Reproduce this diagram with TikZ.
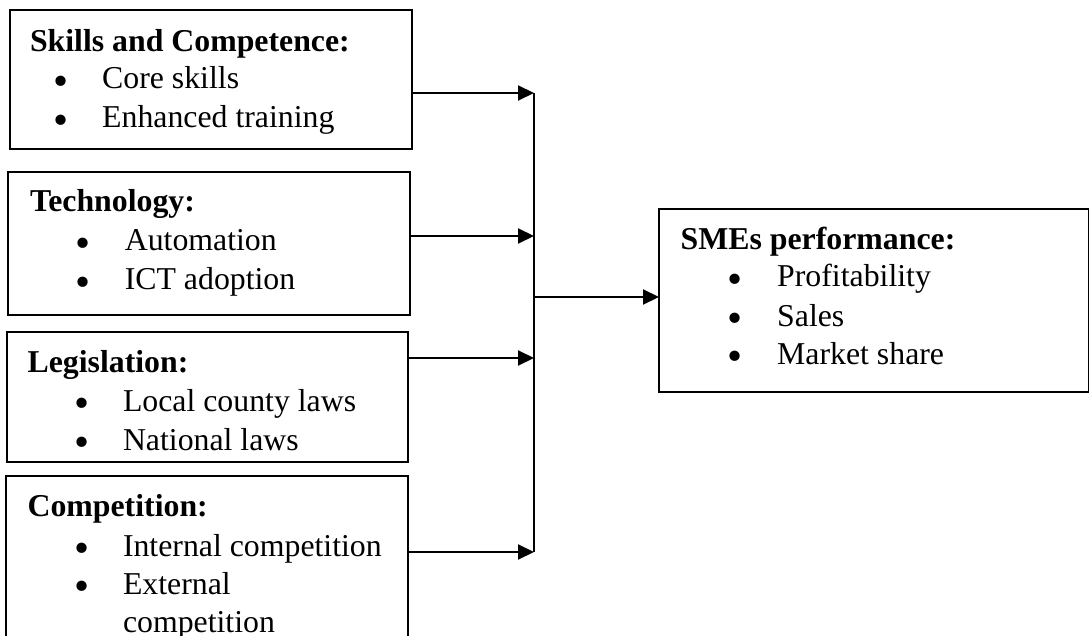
\documentclass[tikz,border=0pt]{standalone}
\usepackage{fontspec}
\setmainfont{Liberation Serif}
\usetikzlibrary{arrows.meta}
\newcommand\bulletmark{\smash{\textbullet}}
\begin{document}
\begin{tikzpicture}[x=1pt,y=-1pt,
  every node/.style={font=\fontsize{31.8}{38}\selectfont},
  box/.style={draw,line width=1.5pt,inner sep=0pt,outer sep=0pt},
  head/.style={anchor=base west,inner sep=0pt,font=\fontsize{31.8}{38}\selectfont\bfseries},
  item/.style={anchor=base west,inner sep=0pt},
  dot/.style={anchor=base,inner sep=0pt,yshift=-6.3pt,font=\fontsize{43}{43}\selectfont},
  link/.style={line width=2pt,-{Triangle[length=16pt,width=15pt]}},
  bus/.style={line width=2pt}]
\useasboundingbox (0,0) rectangle (1089,636);
\clip (0,0) rectangle (1089,636);

% factor boxes
\node[box,minimum width=402pt,minimum height=139pt] (skills) at (211,79.5) {};
\node[box,minimum width=402pt,minimum height=143pt] (tech) at (209,243.5) {};
\node[box,minimum width=401pt,minimum height=130pt] (law) at (207.5,397) {};
\node[box,minimum width=402pt,minimum height=224pt] (comp) at (207,588) {};
% outcome box
\node[box,minimum width=430pt,minimum height=183pt] (smes) at (874,300.5) {};

% box contents
\node[head] (skillsH) at (29.8,51.7) {Skills and Competence:};
\node[dot] (skillsD1) at (61.4,89) {\bulletmark};
\node[dot] (skillsD2) at (61.4,128) {\bulletmark};
\node[item] (skillsI1) at (102,89) {Core skills};
\node[item] (skillsI2) at (102,128) {Enhanced training};

\node[head] (techH) at (29.8,212) {Technology:};
\node[dot] (techD1) at (83.2,251) {\bulletmark};
\node[dot] (techD2) at (83.2,290) {\bulletmark};
\node[item] (techI1) at (124.6,251) {Automation};
\node[item] (techI2) at (124.6,290) {ICT adoption};

\node[head] (lawH) at (27.4,372) {Legislation:};
\node[dot] (lawD1) at (81.8,411) {\bulletmark};
\node[dot] (lawD2) at (81.8,450) {\bulletmark};
\node[item] (lawI1) at (122.8,411) {Local county laws};
\node[item] (lawI2) at (122.8,450) {National laws};

\node[head] (compH) at (27.4,516) {Competition:};
\node[dot] (compD1) at (81.8,556) {\bulletmark};
\node[dot] (compD2) at (81.8,594) {\bulletmark};
\node[item] (compI1) at (122.8,556) {Internal competition};
\node[item] (compI2) at (122.8,594) {External};
\node[item] (compI3) at (122.8,632) {competition};

\node[head] (smesH) at (680.5,250) {SMEs performance:};
\node[dot] (smesD1) at (735,287) {\bulletmark};
\node[dot] (smesD2) at (735,326) {\bulletmark};
\node[dot] (smesD3) at (735,364) {\bulletmark};
\node[item] (smesI1) at (777,287) {Profitability};
\node[item] (smesI2) at (777,326) {Sales};
\node[item] (smesI3) at (777,364) {Market share};

% collecting bus
\coordinate (b1) at (534,93);
\coordinate (b2) at (534,236);
\coordinate (b3) at (534,358);
\coordinate (b4) at (534,552);
\coordinate (bo) at (534,297);
\draw[bus] (b1) -- (b4);

% connectors
\draw[link] (skills.east |- b1) -- (b1);
\draw[link] (tech.east |- b2) -- (b2);
\draw[link] (law.east |- b3) -- (b3);
\draw[link] (comp.east |- b4) -- (b4);
\draw[link] (bo) -- (smes.west |- bo);
\end{tikzpicture}
\end{document}
